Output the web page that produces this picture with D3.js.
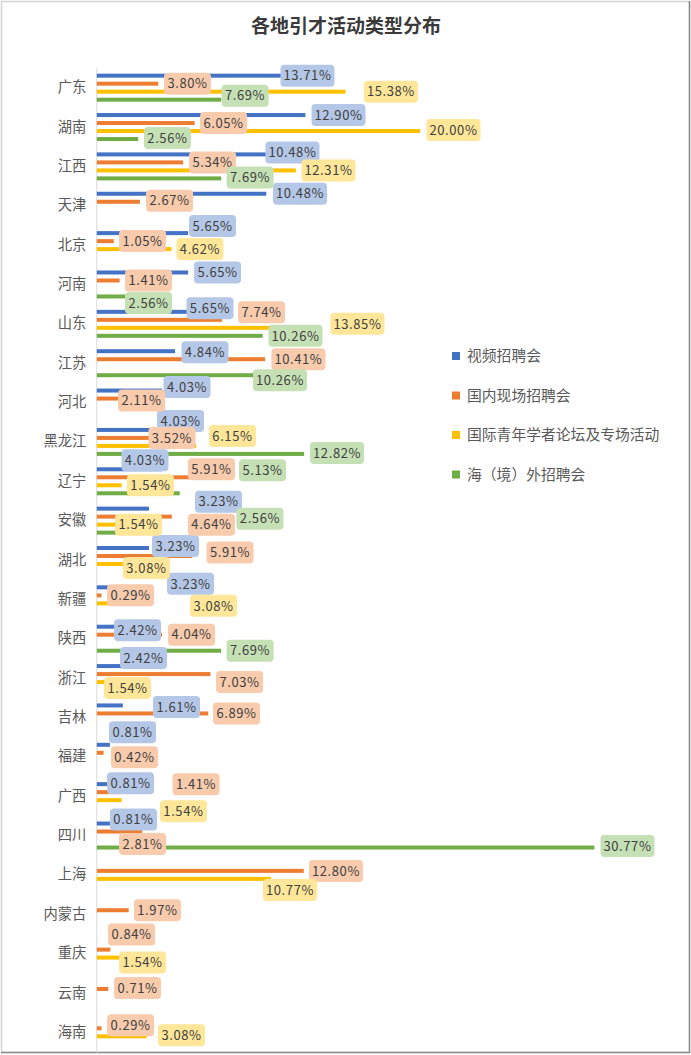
<!DOCTYPE html>
<html><head><meta charset="utf-8">
<script src="https://cdn.jsdelivr.net/npm/d3@7/dist/d3.min.js"></script>
<style>html,body{margin:0;padding:0;background:#fff;}svg{display:block;}</style>
</head><body>
<script>
// ---- data ----
const categories = ["广东","湖南","江西","天津","北京","河南","山东","江苏","河北","黑龙江","辽宁","安徽","湖北","新疆","陕西","浙江","吉林","福建","广西","四川","上海","内蒙古","重庆","云南","海南"];
const seriesNames = ["视频招聘会","国内现场招聘会","国际青年学者论坛及专场活动","海（境）外招聘会"];
const videoFair   = [13.71,12.90,10.48,10.48,5.65,5.65,5.65,4.84,4.03,4.03,4.03,3.23,3.23,3.23,2.42,2.42,1.61,0.81,0.81,0.81,null,null,null,null,null];
const domesticFair= [3.80,6.05,5.34,2.67,1.05,1.41,7.74,10.41,2.11,3.52,5.91,4.64,5.91,0.29,4.04,7.03,6.89,0.42,1.41,2.81,12.80,1.97,0.84,0.71,0.29];
const forumEvents = [15.38,20.00,12.31,null,4.62,null,13.85,null,null,6.15,1.54,1.54,3.08,3.08,null,1.54,null,null,1.54,null,10.77,null,1.54,null,3.08];
const overseasFair= [7.69,2.56,7.69,null,null,2.56,10.26,10.26,null,12.82,5.13,2.56,null,null,7.69,null,null,null,null,30.77,null,null,null,null,null];

// ---- manual data-label placement (x in % units, dy in px from bar centre) ----
const labelX = [
 [13.06,14.98,12.13,12.60,7.19,7.50,7.03,6.72,5.61,5.21,3.01,7.56,4.90,5.83,2.55,2.92,4.96,2.24,2.12,2.30,0,0,0,0,0],
 [5.64,7.87,7.19,4.53,2.86,3.23,10.22,12.50,2.80,4.68,7.12,7.12,8.27,2.12,5.89,8.86,8.67,2.36,6.17,2.86,14.82,3.78,2.18,2.55,2.12],
 [18.22,22.09,14.36,0,6.41,0,16.15,0,0,8.42,3.35,2.61,3.10,7.25,0,1.93,0,0,5.39,0,11.98,0,2.86,0,5.27],
 [9.20,4.40,9.51,0,0,3.23,12.32,11.36,0,14.89,10.28,10.12,0,0,9.51,0,0,0,0,32.85,0,0,0,0,0]
];
const labelDy = [
 [0,0,-2,0,-7,0,-3.5,1,-3.5,-9,-9,-7,-2,-3.5,3.5,-8,1.5,-12.5,-1,-4,0,0,0,0,0],
 [0,0,0,-1,0,0,-7.5,0,2,0,-8,8,-3.5,0,0,8,0,4.5,-8,12.5,0,0,-15,-1,-3],
 [0,-1,0,0,0,0,-4,0,0,-10,0,0,4,2.5,0,6,0,0,11,0,11,0,5,0,-1],
 [-4,-1,-1,0,0,6.5,0,5,0,-1,-23,-14,0,0,0,0,0,0,0,-1.5,0,0,0,0,0]
];

const seriesValues = [videoFair, domesticFair, forumEvents, overseasFair];
const barColors = ["#4472c4","#ed7d31","#ffc000","#70ad47"];
const labelFills = ["#b4c7e7","#f8cbad","#ffe699","#c5e0b4"];

const W = 691, H = 1055;
const svg = d3.select("body").append("svg").attr("width", W).attr("height", H);

// frame
svg.append("rect").attr("x",1.5).attr("y",1.5).attr("width",W-3).attr("height",H-4)
  .attr("fill","#fff").attr("stroke","#d4d4d4").attr("stroke-width",1.5);
svg.append("line").attr("x1",W-1.5).attr("x2",W-1.5).attr("y1",1).attr("y2",H-2).attr("stroke","#8a8a8a").attr("stroke-width",1.5);
svg.append("line").attr("x1",1).attr("x2",W-1).attr("y1",H-2.5).attr("y2",H-2.5).attr("stroke","#8a8a8a").attr("stroke-width",1.5);

// title
svg.append("text").attr("x",346).attr("y",33).attr("text-anchor","middle")
  .attr("font-family","'Noto Sans CJK SC', sans-serif").attr("font-size",19).attr("font-weight","bold")
  .attr("fill","#3a3a3a").text("各地引才活动类型分布");

const x = d3.scaleLinear().domain([0,35]).range([96.3, 96.3 + 35*16.17]);
const y = d3.scaleBand().domain(categories).range([68, 1052]);
const yInner = d3.scaleBand().domain(d3.range(4)).range([-16,16]).paddingInner(0.5).paddingOuter(0.25);

// category axis
const yAxis = d3.axisLeft(y).tickSize(0).tickPadding(10);
const ag = svg.append("g").attr("transform",`translate(${x(0)},0)`).call(yAxis);
ag.select(".domain").attr("stroke","#d9d9d9").attr("stroke-width",1);
ag.selectAll("text").attr("font-family","'Noto Sans CJK SC', sans-serif").attr("font-size",14.3).attr("fill","#595959");

// bars
seriesValues.forEach((vals, s) => {
  svg.append("g").selectAll("rect").data(vals.map((v,i)=>({v,i})).filter(d=>d.v!=null))
    .join("rect")
    .attr("x", x(0)+0.5)
    .attr("y", d => y(categories[d.i]) + y.bandwidth()/2 + yInner(s))
    .attr("width", d => x(d.v) - x(0))
    .attr("height", yInner.bandwidth())
    .attr("fill", barColors[s]);
});

// data labels
seriesValues.forEach((vals, s) => {
  const g = svg.append("g");
  vals.forEach((v,i) => {
    if (v == null) return;
    const txt = v.toFixed(2) + "%";
    const cy = y(categories[i]) + y.bandwidth()/2 + yInner(s) + yInner.bandwidth()/2 + labelDy[s][i];
    const cx = x(labelX[s][i]);
    const w = txt.length >= 6 ? 54 : 47;
    const h = 22;
    g.append("rect").attr("x",cx-w/2).attr("y",cy-h/2).attr("width",w).attr("height",h)
      .attr("rx",4).attr("fill",labelFills[s]);
    g.append("text").attr("x",cx).attr("y",cy).attr("dy","0.36em").attr("text-anchor","middle")
      .attr("font-family","'Noto Sans CJK SC', sans-serif").attr("font-size",13)
      .attr("letter-spacing",0.6)
      .attr("fill","#404040").text(txt);
  });
});

// legend
const lg = svg.append("g").attr("transform","translate(452,356)");
seriesNames.forEach((n,s) => {
  const it = lg.append("g").attr("transform",`translate(0,${s*39.5})`);
  it.append("rect").attr("x",0).attr("y",-4).attr("width",8).attr("height",8).attr("fill",barColors[s]);
  it.append("text").attr("x",15).attr("y",0).attr("dy","0.36em")
    .attr("font-family","'Noto Sans CJK SC', sans-serif").attr("font-size",14.8).attr("fill","#595959").text(n);
});
</script>
</body></html>
